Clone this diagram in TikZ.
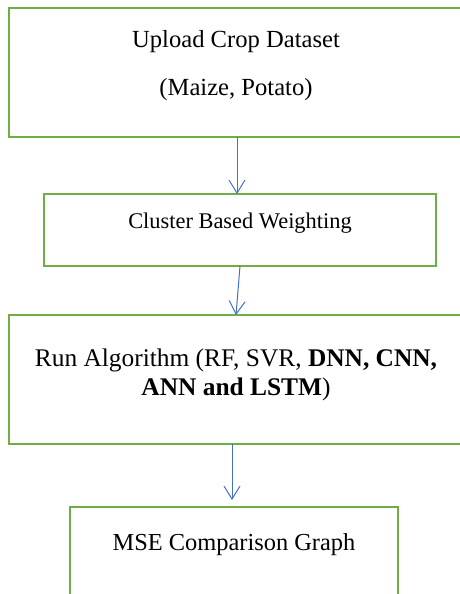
\documentclass[tikz,border=0pt]{standalone}
\usepackage{fontspec}
\setmainfont{Liberation Serif}
\usepackage{xcolor}
\usetikzlibrary{arrows.meta,positioning,calc}

\definecolor{boxgreen}{RGB}{112,173,71}
\definecolor{flowblue}{RGB}{68,114,196}

\begin{document}
\begin{tikzpicture}[
    x=0.5pt, y=-0.5pt,
    stepbox/.style={rectangle, draw=boxgreen, line width=1.2pt, outer sep=0pt, inner sep=0pt},
    txt/.style={inner sep=0pt, anchor=base},
    flow/.style={-{Straight Barb[length=6.5pt, width=8pt]}, draw=flowblue, line width=0.5pt}
]
    \useasboundingbox (0,0) rectangle (460,594);
    \clip (0,0) rectangle (460,594);

    % Boxes
    \node[stepbox, minimum width=227pt, minimum height=64.5pt, anchor=north west] (upload) at (9,8) {};
    \node[stepbox, minimum width=196pt, minimum height=36pt, below=28.5pt of upload, xshift=2pt] (cluster) {};
    \node[stepbox, minimum width=227pt, minimum height=64.5pt, below=24.5pt of cluster, xshift=-2pt] (run) {};
    \node[stepbox, minimum width=164pt, minimum height=56pt, below=31.5pt of run, xshift=-1pt] (cmp) {};

    % Texts
    \node[txt, font=\fontsize{12.3}{14}\selectfont] (upload-l1) at ([yshift=-19.5pt]upload.north) {Upload Crop Dataset};
    \node[txt, font=\fontsize{12.3}{14}\selectfont] (upload-l2) at ([yshift=-43.75pt]upload.north) {(Maize, Potato)};
    \node[txt, font=\fontsize{11.2}{13}\selectfont] (cluster-l1) at ([yshift=-17pt]cluster.north) {Cluster Based Weighting};
    \node[txt, font=\fontsize{12.7}{14}\selectfont] (run-l1) at ([yshift=-25.5pt]run.north) {Run Algorithm (RF, SVR, \textbf{DNN, CNN,}};
    \node[txt, font=\fontsize{12.7}{14}\selectfont] (run-l2) at ([yshift=-40pt]run.north) {\textbf{ANN and LSTM})};
    \node[txt, font=\fontsize{12.2}{14}\selectfont] (cmp-l1) at ([yshift=-21.5pt]cmp.north) {MSE Comparison Graph};

    % Arrows
    \draw[flow] ([xshift=0.5pt]upload.south) -- ($(upload.south |- cluster.north)+(0.5pt,0)$);
    \draw[flow] (cluster.south) -- (run.north);
    \draw[flow] ([xshift=-2pt]run.south) -- ($(run.south |- cmp.north)+(-2pt,3.5pt)$);
\end{tikzpicture}
\end{document}
